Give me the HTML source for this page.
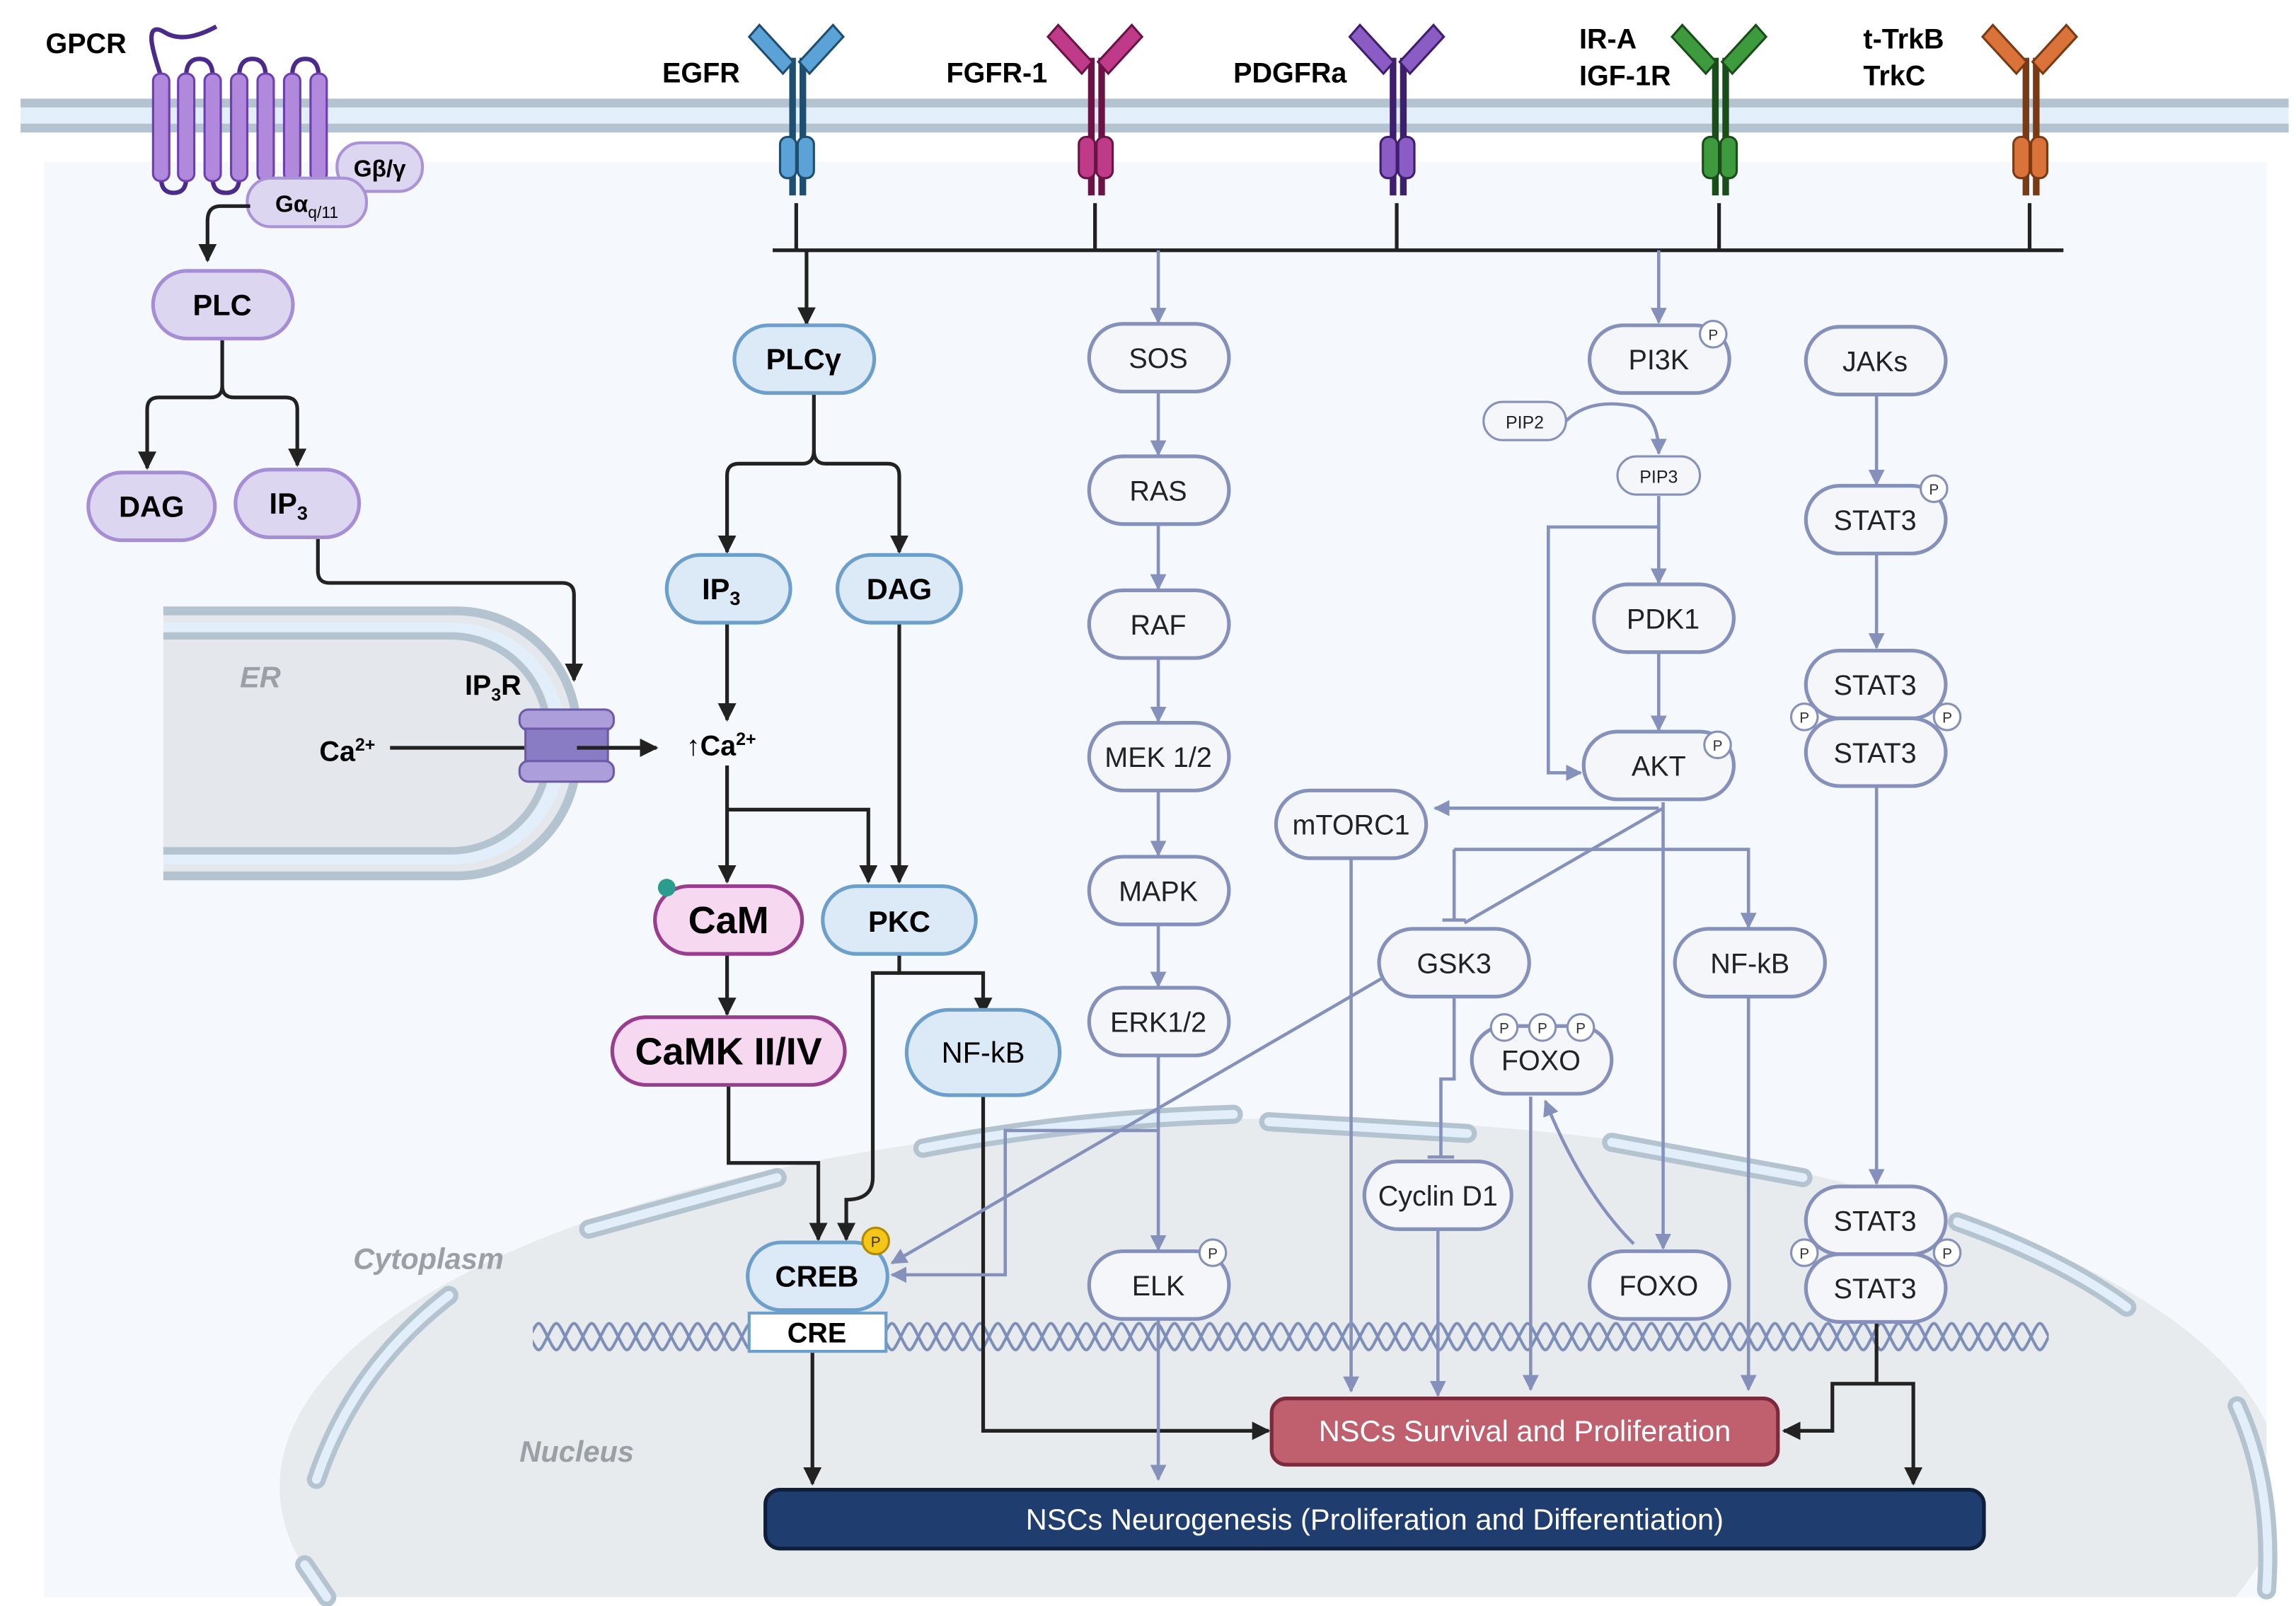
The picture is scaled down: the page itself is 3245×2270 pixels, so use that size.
<!DOCTYPE html>
<html><head><meta charset="utf-8"><style>
html,body{margin:0;padding:0;background:#fff;overflow:hidden;width:3245px;height:2270px}
svg{display:block}
text{font-family:"Liberation Sans",sans-serif}
</style></head><body>
<svg width="3245" height="2270" viewBox="0 0 1560 1091" preserveAspectRatio="none" xmlns="http://www.w3.org/2000/svg">
<defs>
<marker id="ak" viewBox="0 0 10 10" refX="9" refY="5" markerWidth="5" markerHeight="5" orient="auto-start-reverse"><path d="M0,0L10,5L0,10z" fill="#222"/></marker>
<marker id="ag" viewBox="0 0 10 10" refX="9" refY="5" markerWidth="5" markerHeight="5" orient="auto-start-reverse"><path d="M0,0L10,5L0,10z" fill="#8591bb"/></marker>
<pattern id="dna" x="0" y="894" width="24" height="28" patternUnits="userSpaceOnUse">
<path d="M0,14 C6,2 6,2 12,14 S18,26 24,14" fill="none" stroke="#7d8fb8" stroke-width="2"/>
<path d="M0,14 C6,26 6,26 12,14 S18,2 24,14" fill="none" stroke="#7d8fb8" stroke-width="2"/>
</pattern>
<clipPath id="cl"><rect x="30" y="110" width="1510" height="975"/></clipPath>
</defs>
<rect width="1560" height="1091" fill="#fff"/>
<rect x="30" y="110" width="1510" height="975" fill="#f5f8fc"/>
<g clip-path="url(#cl)">
<ellipse cx="870" cy="1010" rx="680" ry="250" fill="#e8ebee"/>
</g>
<!-- membrane -->
<rect x="14" y="68" width="1541" height="22" fill="#e2eefa"/>
<rect x="14" y="67" width="1541" height="6" fill="#b4c3d0"/>
<rect x="14" y="84" width="1541" height="6" fill="#b4c3d0"/>
<!-- ER -->
<path d="M111,412 H310 A82,82 0 0 1 392,494 V516 A82,82 0 0 1 310,598 H111 Z" fill="#e4e8ec"/>
<path d="M111,415 H310 A82,82 0 0 1 392,497 V513 A82,82 0 0 1 310,595 H111" fill="none" stroke="#b4c3d0" stroke-width="6"/>
<path d="M111,427 H308 A72,72 0 0 1 380,499 V511 A72,72 0 0 1 308,583 H111" fill="none" stroke="#e2eefa" stroke-width="8"/>
<path d="M111,432 H306 A66,66 0 0 1 372,498 V512 A66,66 0 0 1 306,578 H111" fill="none" stroke="#b4c3d0" stroke-width="5"/>
<text x="163" y="467" font-size="20" font-style="italic" font-weight="bold" fill="#9aa0a6">ER</text>
<!-- nuclear envelope segments -->
<g fill="none" stroke-linecap="round">
<g stroke="#b4c3d0" stroke-width="13">
<path d="M400,835 L528,800"/><path d="M627,780 Q730,760 838,757"/><path d="M862,762 L997,770"/><path d="M1095,776 L1225,800"/><path d="M1330,830 Q1400,855 1445,888"/><path d="M305,880 Q240,930 215,1005"/><path d="M207,1063 L222,1085"/><path d="M1520,955 Q1545,1010 1540,1080"/>
</g>
<g stroke="#e2eefa" stroke-width="6">
<path d="M400,835 L528,800"/><path d="M627,780 Q730,760 838,757"/><path d="M862,762 L997,770"/><path d="M1095,776 L1225,800"/><path d="M1330,830 Q1400,855 1445,888"/><path d="M305,880 Q240,930 215,1005"/><path d="M207,1063 L222,1085"/><path d="M1520,955 Q1545,1010 1540,1080"/>
</g>
</g>
<text x="240" y="862" font-size="20" font-style="italic" font-weight="bold" fill="#9aa0a6">Cytoplasm</text>
<text x="353" y="993" font-size="20" font-style="italic" font-weight="bold" fill="#9aa0a6">Nucleus</text>
<!-- DNA -->
<rect x="362" y="894" width="1030" height="28" fill="url(#dna)"/>
<!-- GPCR -->
<g fill="none" stroke="#4a2a8a" stroke-width="3">
<path d="M109.5,52 Q104,36 103,28 Q102,16 112,22 Q125,30 147,18"/>
<path d="M126.5,52 Q126.5,40 135.5,40 Q144.5,40 144.5,52"/>
<path d="M162.5,52 Q162.5,40 171.5,40 Q180.5,40 180.5,52"/>
<path d="M198.5,52 Q198.5,40 207.5,40 Q216.5,40 216.5,52"/>
<path d="M109.5,121 Q109.5,131 118,131 Q126.5,131 126.5,121"/>
<path d="M144.5,121 Q144.5,131 153.5,131 Q162.5,131 162.5,121"/>
<path d="M180.5,121 Q180.5,131 189.5,131 Q198.5,131 198.5,121"/>
</g>
<g fill="#b089dd" stroke="#6e3fb0" stroke-width="1.5">
<rect x="104" y="50" width="11" height="73" rx="5"/><rect x="121" y="50" width="11" height="73" rx="5"/><rect x="139" y="50" width="11" height="73" rx="5"/><rect x="157" y="50" width="11" height="73" rx="5"/><rect x="175" y="50" width="11" height="73" rx="5"/><rect x="193" y="50" width="11" height="73" rx="5"/><rect x="211" y="50" width="11" height="73" rx="5"/>
</g>
<text x="31" y="36" font-size="19" font-weight="bold">GPCR</text>
<rect x="229" y="97" width="58" height="33" rx="16" fill="#ddd6f0" stroke="#a993d6" stroke-width="2"/>
<text x="258" y="120" font-size="16" font-weight="bold" text-anchor="middle">Gβ/γ</text>
<rect x="168" y="121" width="81" height="33" rx="16" fill="#ddd6f0" stroke="#a993d6" stroke-width="2"/>
<text x="187" y="144" font-size="16" font-weight="bold">Gα<tspan font-size="11" dy="4" font-weight="normal">q/11</tspan></text>
<!-- receptors -->
<g stroke-width="1.5">
<g transform="translate(541,0)" fill="#5ba3d6" stroke="#1e4f70"><rect x="-4" y="40" width="3" height="92" fill="#1e4f70"/><rect x="3" y="40" width="3" height="92" fill="#1e4f70"/><path d="M-32,25 L-25,17 L-2,42 L-9,50Z"/><path d="M32,25 L25,17 L2,42 L9,50Z"/><rect x="-11" y="93" width="11" height="28" rx="5"/><rect x="1" y="93" width="11" height="28" rx="5"/></g>
<g transform="translate(744,0)" fill="#c03a8a" stroke="#6a1446"><rect x="-4" y="40" width="3" height="92" fill="#6a1446"/><rect x="3" y="40" width="3" height="92" fill="#6a1446"/><path d="M-32,25 L-25,17 L-2,42 L-9,50Z"/><path d="M32,25 L25,17 L2,42 L9,50Z"/><rect x="-11" y="93" width="11" height="28" rx="5"/><rect x="1" y="93" width="11" height="28" rx="5"/></g>
<g transform="translate(949,0)" fill="#8a5cc4" stroke="#3e1f6e"><rect x="-4" y="40" width="3" height="92" fill="#3e1f6e"/><rect x="3" y="40" width="3" height="92" fill="#3e1f6e"/><path d="M-32,25 L-25,17 L-2,42 L-9,50Z"/><path d="M32,25 L25,17 L2,42 L9,50Z"/><rect x="-11" y="93" width="11" height="28" rx="5"/><rect x="1" y="93" width="11" height="28" rx="5"/></g>
<g transform="translate(1168,0)" fill="#3d9a3d" stroke="#1a4d1a"><rect x="-4" y="40" width="3" height="92" fill="#1a4d1a"/><rect x="3" y="40" width="3" height="92" fill="#1a4d1a"/><path d="M-32,25 L-25,17 L-2,42 L-9,50Z"/><path d="M32,25 L25,17 L2,42 L9,50Z"/><rect x="-11" y="93" width="11" height="28" rx="5"/><rect x="1" y="93" width="11" height="28" rx="5"/></g>
<g transform="translate(1379,0)" fill="#d9733a" stroke="#7a3a14"><rect x="-4" y="40" width="3" height="92" fill="#7a3a14"/><rect x="3" y="40" width="3" height="92" fill="#7a3a14"/><path d="M-32,25 L-25,17 L-2,42 L-9,50Z"/><path d="M32,25 L25,17 L2,42 L9,50Z"/><rect x="-11" y="93" width="11" height="28" rx="5"/><rect x="1" y="93" width="11" height="28" rx="5"/></g>
</g>
<g font-size="19" font-weight="bold">
<text x="450" y="56">EGFR</text><text x="643" y="56">FGFR-1</text><text x="838" y="56">PDGFRa</text>
<text x="1073" y="33">IR-A</text><text x="1073" y="58">IGF-1R</text>
<text x="1266" y="33">t-TrkB</text><text x="1266" y="58">TrkC</text>
</g>
<!-- receptor bar -->
<g stroke="#222" stroke-width="2.5" fill="none">
<path d="M525,170 H1402"/>
<path d="M541,138 V170 M744,138 V170 M949,138 V170 M1168,138 V170 M1379,138 V170"/>
</g>
<!-- black connectors -->
<g stroke="#222" stroke-width="2.5" fill="none" marker-end="url(#ak)">
<path d="M170,140 H150 Q141,140 141,150 V177"/>
<path d="M151,231 V262 Q151,270 143,270 H108 Q100,270 100,278 V318"/>
<path d="M151,262 Q151,270 159,270 H194 Q202,270 202,278 V316"/>
<path d="M216,366 V388 Q216,396 224,396 H382 Q390,396 390,404 V462"/>
<path d="M265,508 H446"/>
<path d="M548,170 V220"/>
<path d="M553,268 V306 Q553,315 545,315 H502 Q494,315 494,323 V375"/>
<path d="M553,306 Q553,315 561,315 H603 Q611,315 611,323 V375"/>
<path d="M494,424 V489"/>
<path d="M494,520 V599"/>
<path d="M494,550 H590 V599"/>
<path d="M611,424 V599"/>
<path d="M494,649 V689"/>
<path d="M495,738 V790 H556 V842"/>
<path d="M611,649 V661 H668 V689"/>
<path d="M611,661 H593 V800 Q593,815 575,815 V842"/>
<path d="M668,745 V972 H862"/>
<path d="M552,919 V1008"/>
<path d="M1275,898 V940 H1245 V972 H1212"/>
<path d="M1275,940 H1300 V1008"/>
</g>
<!-- grey connectors -->
<g stroke="#8591bb" stroke-width="2.2" fill="none" marker-end="url(#ag)">
<path d="M787,170 V219"/><path d="M787,267 V309"/><path d="M787,357 V400"/><path d="M787,448 V490"/><path d="M787,538 V581"/><path d="M787,629 V670"/>
<path d="M787,718 V849"/>
<path d="M787,768 H683 V866 H606"/>
<path d="M787,897 V1005"/>
<path d="M1127,170 V219"/>
<path d="M1064,286 Q1080,270 1110,276 Q1127,282 1127,308"/>
<path d="M1127,337 V396"/>
<path d="M1127,358 H1052 V525 H1074"/>
<path d="M1127,444 V496"/>
<path d="M1127,549 H975"/>
<path d="M1130,545 V848"/>
<path d="M988,577 H1188 V630"/>
<path d="M918,584 V945"/>
<path d="M940,664 L606,858"/>
<path d="M977,836 V948"/>
<path d="M1040,745 V944"/>
<path d="M1188,678 V944"/>
<path d="M1110,845 Q1075,810 1050,748"/>
<path d="M1275,269 V329"/><path d="M1275,377 V440"/><path d="M1275,534 V804"/>
</g>
<g stroke="#8591bb" stroke-width="2.2" fill="none">
<path d="M1130,549 L995,627"/>
<path d="M988,577 V625 M980,625 H996"/>
<path d="M988,677 V733 H979 V785 M970,786 H988"/>
</g>
<!-- nodes -->
<g font-size="20" text-anchor="middle" font-weight="bold">
<g fill="#ddd6f0" stroke="#a68ed6" stroke-width="2.5">
<rect x="104" y="184" width="95" height="46" rx="23"/><rect x="60" y="321" width="86" height="46" rx="23"/><rect x="160" y="319" width="84" height="46" rx="23"/>
</g>
<text x="151" y="214">PLC</text><text x="103" y="351">DAG</text><text x="196" y="349">IP<tspan font-size="13" dy="4">3</tspan></text>
<g fill="#dceaf8" stroke="#6d9fcc" stroke-width="2.5">
<rect x="499" y="221" width="95" height="46" rx="23"/>
<rect x="453" y="377" width="84" height="46" rx="23"/><rect x="569" y="377" width="84" height="46" rx="23"/>
<rect x="559" y="602" width="104" height="46" rx="23"/>
<rect x="616" y="686" width="104" height="58" rx="29"/>
<rect x="508" y="844" width="95" height="46" rx="23"/>
</g>
<text x="546" y="251">PLCγ</text><text x="490" y="407">IP<tspan font-size="13" dy="4">3</tspan></text><text x="611" y="407">DAG</text>
<text x="611" y="633">PKC</text><text x="555" y="874">CREB</text>
<text x="668" y="722" font-weight="normal">NF-kB</text>
<text x="335" y="472" font-size="19">IP<tspan font-size="12" dy="4">3</tspan><tspan dy="-4">R</tspan></text>
<text x="236" y="517" font-size="19">Ca<tspan font-size="12" dy="-7">2+</tspan></text>
<text x="490" y="513" font-size="19">↑Ca<tspan font-size="12" dy="-7">2+</tspan></text>
<rect x="445" y="602" width="100" height="46" rx="23" fill="#f6d8f1" stroke="#9b3d8f" stroke-width="2.5"/>
<text x="495" y="634" font-size="26">CaM</text>
<rect x="416" y="691" width="158" height="46" rx="23" fill="#f6d8f1" stroke="#9b3d8f" stroke-width="2.5"/>
<text x="495" y="723" font-size="26">CaMK II/IV</text>
<rect x="509" y="892" width="93" height="26" fill="#fff" stroke="#6d9fcc" stroke-width="2"/>
<text x="555" y="912" font-size="19">CRE</text>
</g>
<circle cx="453" cy="603" r="6" fill="#2a9d8f"/>
<!-- ER channel -->
<g fill="#ab9edb" stroke="#6e5aa8" stroke-width="1.5">
<rect x="353" y="482" width="64" height="14" rx="6"/><rect x="357" y="495" width="56" height="24" fill="#8a7cc4"/><rect x="353" y="517" width="64" height="14" rx="6"/>
</g>
<path d="M392,508 H446" stroke="#222" stroke-width="2.5" marker-end="url(#ak)"/>
<g font-size="19" text-anchor="middle" fill="#222">
<g fill="#f4f6fa" stroke="#8591bb" stroke-width="2.5">
<rect x="740" y="220" width="95" height="46" rx="23"/><rect x="740" y="310" width="95" height="46" rx="23"/><rect x="740" y="401" width="95" height="46" rx="23"/><rect x="740" y="491" width="95" height="46" rx="23"/><rect x="740" y="582" width="95" height="46" rx="23"/><rect x="740" y="671" width="95" height="46" rx="23"/><rect x="740" y="850" width="95" height="46" rx="23"/>
<rect x="1080" y="221" width="95" height="46" rx="23"/>
<rect x="1083" y="397" width="95" height="46" rx="23"/>
<rect x="1076" y="497" width="102" height="46" rx="23"/>
<rect x="867" y="537" width="102" height="46" rx="23"/>
<rect x="937" y="631" width="102" height="46" rx="23"/>
<rect x="1138" y="631" width="102" height="46" rx="23"/>
<rect x="1000" y="697" width="95" height="46" rx="23"/>
<rect x="927" y="789" width="100" height="46" rx="23"/>
<rect x="1080" y="850" width="95" height="46" rx="23"/>
<rect x="1227" y="222" width="95" height="46" rx="23"/><rect x="1227" y="330" width="95" height="46" rx="23"/>
<rect x="1227" y="442" width="95" height="46" rx="23"/><rect x="1227" y="488" width="95" height="46" rx="23"/>
<rect x="1227" y="806" width="95" height="46" rx="23"/><rect x="1227" y="852" width="95" height="46" rx="23"/>
<rect x="1008" y="273" width="56" height="26" rx="13" stroke-width="1.5"/><rect x="1099" y="310" width="56" height="26" rx="13" stroke-width="1.5"/>
</g>
<text x="787" y="250">SOS</text><text x="787" y="340">RAS</text><text x="787" y="431">RAF</text><text x="787" y="521">MEK 1/2</text><text x="787" y="612">MAPK</text><text x="787" y="701">ERK1/2</text><text x="787" y="880">ELK</text>
<text x="1127" y="251">PI3K</text><text x="1130" y="427">PDK1</text><text x="1127" y="527">AKT</text><text x="918" y="567">mTORC1</text>
<text x="988" y="661">GSK3</text><text x="1189" y="661">NF-kB</text><text x="1047" y="727">FOXO</text><text x="977" y="819">Cyclin D1</text><text x="1127" y="880">FOXO</text>
<text x="1274" y="252">JAKs</text><text x="1274" y="360">STAT3</text><text x="1274" y="472">STAT3</text><text x="1274" y="518">STAT3</text><text x="1274" y="836">STAT3</text><text x="1274" y="882">STAT3</text>
<text x="1036" y="291" font-size="12">PIP2</text><text x="1127" y="328" font-size="12">PIP3</text>
</g>
<!-- P circles -->
<g fill="#fff" stroke="#8591bb" stroke-width="1.5">
<circle cx="1164" cy="227" r="9"/><circle cx="1167" cy="506" r="9"/><circle cx="1314" cy="332" r="9"/><circle cx="1226" cy="487" r="9"/><circle cx="1323" cy="487" r="9"/><circle cx="1226" cy="851" r="9"/><circle cx="1323" cy="851" r="9"/><circle cx="824" cy="851" r="9"/><circle cx="1022" cy="698" r="9"/><circle cx="1048" cy="698" r="9"/><circle cx="1074" cy="698" r="9"/>
</g>
<circle cx="595" cy="843" r="9" fill="#f5c518" stroke="#b08a00" stroke-width="1.5"/>
<g font-size="10" text-anchor="middle" fill="#333">
<text x="1164" y="231">P</text><text x="1167" y="510">P</text><text x="1314" y="336">P</text><text x="1226" y="491">P</text><text x="1323" y="491">P</text><text x="1226" y="855">P</text><text x="1323" y="855">P</text><text x="824" y="855">P</text><text x="1022" y="702">P</text><text x="1048" y="702">P</text><text x="1074" y="702">P</text><text x="595" y="847">P</text>
</g>
<!-- outputs -->
<rect x="864" y="950" width="344" height="45" rx="10" fill="#c0606e" stroke="#7a2a3a" stroke-width="2.5"/>
<text x="1036" y="979" font-size="20" fill="#fff" text-anchor="middle">NSCs Survival and Proliferation</text>
<rect x="520" y="1012" width="828" height="40" rx="10" fill="#1f3d6e" stroke="#0f1f3a" stroke-width="2.5"/>
<text x="934" y="1039" font-size="20" fill="#fff" text-anchor="middle">NSCs Neurogenesis (Proliferation and Differentiation)</text>
</svg>
</body></html>
